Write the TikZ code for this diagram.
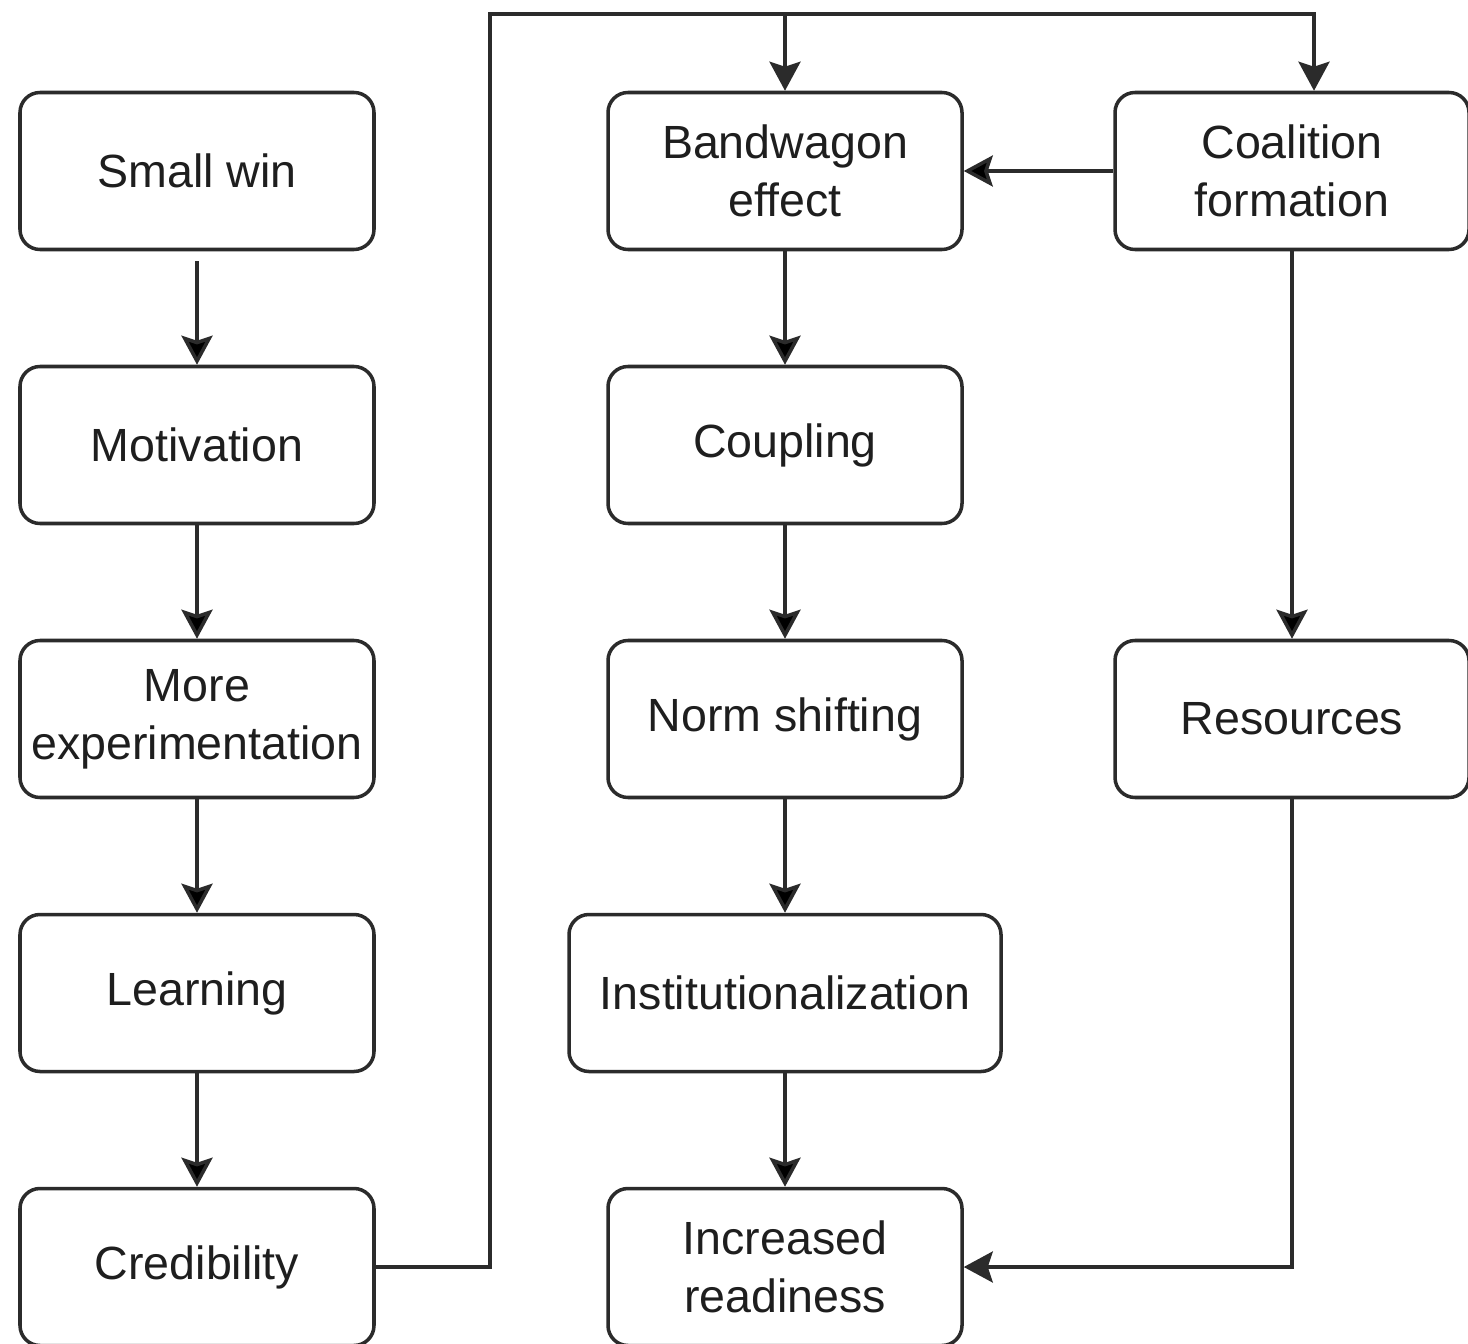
\documentclass[tikz,border=0pt]{standalone}
\usepackage{fontspec}
\setmainfont{Liberation Sans}
\usepackage{xcolor}
\usepackage{tikz}
\usetikzlibrary{positioning,arrows.meta}

\definecolor{linegray}{HTML}{2B2B2B}
\definecolor{textgray}{HTML}{1E1E1E}

\begin{document}
\begin{tikzpicture}[node distance=5.48cm,on grid,
    box/.style={draw=linegray,line width=2pt,rounded corners=0.4cm,
      minimum width=7.08cm,minimum height=3.14cm,inner sep=2pt,align=center,
      text=textgray,font=\fontsize{26.5}{33}\selectfont},
    wide/.style={box,minimum width=8.64cm},
    link/.style={draw=linegray,line width=2pt,
      -{Stealth[length=0.58cm,width=0.62cm,inset=0.1cm]}}]
    \useasboundingbox (0,0) rectangle (29.36,-26.88);
    % left column
    \node[box] (smallwin)                       at (3.94,-3.42) {Small win};
    \node[box] (motivation)    [below=of smallwin]   {Motivation};
    \node[box] (experiment)    [below=of motivation] {More\\experimentation};
    \node[box] (learning)      [below=of experiment] {Learning};
    \node[box] (credibility)   [below=of learning]   {Credibility};
    % middle column
    \node[box] (bandwagon)     [right=11.76cm of smallwin] {Bandwagon\\effect};
    \node[box] (coupling)      [below=of bandwagon]  {Coupling};
    \node[box] (norm)          [below=of coupling]   {Norm shifting};
    \node[wide] (institution)  [below=of norm]       {Institutionalization};
    \node[box] (readiness)     [below=of institution] {Increased\\readiness};
    % right column
    \node[box] (coalition)     [right=10.14cm of bandwagon] {Coalition\\formation};
    \node[box] (resources)     [right=10.14cm of norm] {Resources};
    \coordinate (top) at (9.8,-0.28);
    \path[link]
    (smallwin) edge [shorten <=0.2cm] (motivation)
    (motivation) edge (experiment)
    (experiment) edge (learning)
    (learning) edge (credibility)
    (bandwagon) edge (coupling)
    (coupling) edge (norm)
    (norm) edge (institution)
    (institution) edge (readiness)
    (coalition) edge (bandwagon)
    (coalition) edge (resources);
    % loop over the top
    \draw[link] (credibility.east) -| (top) -| ([xshift=0.44cm]coalition.north);
    \draw[link] (top -| bandwagon.north) -- (bandwagon.north);
    \draw[link] (resources.south) |- (readiness.east);
\end{tikzpicture}
\end{document}
